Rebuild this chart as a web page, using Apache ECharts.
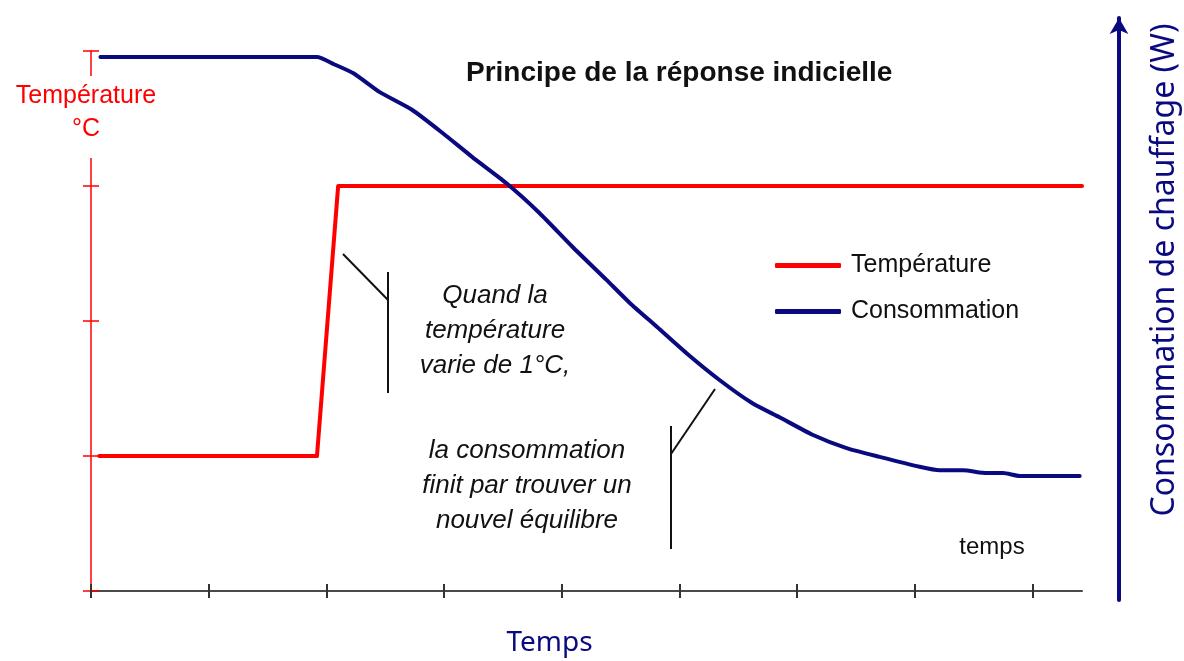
<!DOCTYPE html>
<html>
<head>
<meta charset="utf-8">
<script src="https://cdn.jsdelivr.net/npm/echarts@6/dist/echarts.min.js"></script>
<style>
  html, body { margin: 0; padding: 0; background: #fff; }
  #chart { width: 1184px; height: 661px; }
</style>
</head>
<body>
<div id="chart"></div>
<script>
// Step input: indoor temperature set point (one step of the scale = 1 °C)
const tempTime  = [0.07, 1.92, 2.10, 8.42];
const tempValue = [1, 1, 3, 3];

// Heating consumption response to that step (W, arbitrary scale)
const consTime  = [0.08, 1.92, 2.06, 2.23, 2.45, 2.73, 2.99, 3.24, 3.53, 3.81, 4.09, 4.38,
                   4.58, 4.81, 5.06, 5.34, 5.62, 5.85, 6.13, 6.42, 6.70, 7.04, 7.21, 7.41,
                   7.61, 7.75, 7.89, 8.40];
const consValue = [9.33, 9.33, 9.21, 9.05, 8.73, 8.42, 8.02, 7.61, 7.16, 6.65, 6.07, 5.50,
                   5.10, 4.69, 4.24, 3.78, 3.38, 3.14, 2.84, 2.61, 2.46, 2.29, 2.23, 2.23,
                   2.18, 2.18, 2.13, 2.13];

// Tick positions on the time and temperature axes
const timeTicks = [0, 1, 2, 3, 4, 5, 6, 7, 8];
const timeMax = 8.42;
const tempMin = 0, tempMax = 4, tempStep = 1;

const seriesNames = ['Température', 'Consommation'];
const tempAxisTitle = 'Température\n°C';
const annotations = [
  'Quand la\ntempérature\nvarie de 1°C,',
  'la consommation\nfinit par trouver un\nnouvel équilibre'
];

const RED = '#ff0000';
const NAVY = '#0a0a80';
const ARIAL = '"Liberation Sans", Arial, sans-serif';
const SANS = '"Noto Sans", "Open Sans", sans-serif';

const chart = echarts.init(document.getElementById('chart'), null, { renderer: 'canvas' });

const tempPoints = tempTime.map((t, i) => [t, tempValue[i]]);
const consPoints = consTime.map((t, i) => [t, consValue[i]]);

chart.setOption({
  animation: false,
  backgroundColor: '#ffffff',
  title: {
    text: 'Principe de la réponse indicielle',
    left: 461,
    top: 54,
    textStyle: { fontFamily: ARIAL, fontWeight: 'bold', fontSize: 28, color: '#111' }
  },
  legend: {
    orient: 'vertical',
    left: 770,
    top: 248,
    itemGap: 21,
    itemWidth: 66,
    itemHeight: 5,
    icon: 'roundRect',
    data: seriesNames,
    textStyle: { fontFamily: ARIAL, fontSize: 25, color: '#111', padding: [0, 0, 0, 5] }
  },
  grid: [
    { left: 91, right: 102, top: 51, bottom: 70, outerBoundsMode: 'none' },
    { left: 91, right: 102, top: 18, bottom: 61, outerBoundsMode: 'none' }
  ],
  xAxis: [
    {
      type: 'value', gridIndex: 0, position: 'bottom', min: 0, max: timeMax,
      name: 'Temps', nameLocation: 'middle', nameGap: 38,
      nameTextStyle: { fontFamily: SANS, fontSize: 28, color: NAVY, padding: [0, 74, 0, 0] },
      axisLine: { show: true, onZero: false, lineStyle: { color: '#4a4a4a', width: 2 } },
      axisTick: { show: true, inside: false, length: 7, customValues: timeTicks,
                  lineStyle: { color: '#333', width: 2 } },
      axisLabel: { show: false },
      splitLine: { show: false }
    },
    {
      type: 'value', gridIndex: 0, position: 'bottom', min: 0, max: timeMax,
      axisLine: { show: false, onZero: false },
      axisTick: { show: true, inside: true, length: 7, customValues: timeTicks,
                  lineStyle: { color: '#333', width: 2 } },
      axisLabel: { show: false },
      splitLine: { show: false }
    },
    {
      type: 'value', gridIndex: 1, min: 0, max: timeMax, show: false
    }
  ],
  yAxis: [
    {
      type: 'value', gridIndex: 0, position: 'left', min: tempMin, max: tempMax, interval: tempStep,
      axisLine: { show: true, onZero: false, lineStyle: { color: RED, width: 1.5 } },
      axisTick: { show: true, inside: false, length: 8, lineStyle: { color: RED, width: 1.5 } },
      axisLabel: { show: false },
      splitLine: { show: false }
    },
    {
      type: 'value', gridIndex: 0, position: 'left', min: tempMin, max: tempMax, interval: tempStep,
      axisLine: { show: false, onZero: false },
      axisTick: { show: true, inside: true, length: 8, lineStyle: { color: RED, width: 1.5 } },
      axisLabel: { show: false },
      splitLine: { show: false }
    },
    {
      type: 'value', gridIndex: 1, position: 'right', offset: 37, min: 0, max: 10,
      name: 'Consommation de chauffage (W)', nameLocation: 'middle', nameGap: 30,
      nameRotate: 90,
      nameTextStyle: { fontFamily: SANS, fontSize: 32, color: NAVY, padding: [0, 0, 0, 78] },
      axisLine: { show: true, onZero: false, symbol: ['none', 'arrow'], symbolSize: [14, 16],
                  lineStyle: { color: NAVY, width: 4 } },
      axisTick: { show: false },
      axisLabel: { show: false },
      splitLine: { show: false }
    }
  ],
  series: [
    {
      name: seriesNames[0], type: 'line', xAxisIndex: 0, yAxisIndex: 0,
      data: tempPoints, showSymbol: false, symbol: 'none',
      itemStyle: { color: RED },
      lineStyle: { color: RED, width: 4, cap: 'round', join: 'round' }
    },
    {
      name: seriesNames[1], type: 'line', xAxisIndex: 2, yAxisIndex: 2,
      data: consPoints, showSymbol: false, symbol: 'none', smooth: 0.2,
      itemStyle: { color: NAVY },
      lineStyle: { color: NAVY, width: 4, cap: 'round', join: 'round' }
    }
  ],
  graphic: [
    // title of the temperature axis, sitting in a gap of the axis line
    {
      type: 'rect', z: 50, shape: { x: 82, y: 76, width: 18, height: 82 },
      style: { fill: '#ffffff' }
    },
    {
      type: 'text', z: 51, x: 86, y: 113,
      style: { text: tempAxisTitle, font: '25px ' + ARIAL, fill: RED,
               align: 'center', verticalAlign: 'middle', lineHeight: 33 }
    },
    {
      type: 'text', x: 495, y: 331,
      style: { text: annotations[0], font: 'italic 26px ' + ARIAL, fill: '#111',
               align: 'center', verticalAlign: 'middle', lineHeight: 35 }
    },
    {
      type: 'text', x: 527, y: 486,
      style: { text: annotations[1], font: 'italic 26px ' + ARIAL, fill: '#111',
               align: 'center', verticalAlign: 'middle', lineHeight: 35 }
    },
    {
      type: 'text', x: 992, y: 547,
      style: { text: 'temps', font: '24px ' + ARIAL, fill: '#111',
               align: 'center', verticalAlign: 'middle' }
    },
    // callout strokes pointing at the step and at the decay
    { type: 'line', shape: { x1: 343, y1: 254, x2: 388, y2: 300 }, style: { stroke: '#111', lineWidth: 2 } },
    { type: 'line', shape: { x1: 388, y1: 272, x2: 388, y2: 393 }, style: { stroke: '#111', lineWidth: 2 } },
    { type: 'line', shape: { x1: 715, y1: 389, x2: 671, y2: 454 }, style: { stroke: '#111', lineWidth: 2 } },
    { type: 'line', shape: { x1: 671, y1: 426, x2: 671, y2: 549 }, style: { stroke: '#111', lineWidth: 2 } }
  ]
});
</script>
</body>
</html>
